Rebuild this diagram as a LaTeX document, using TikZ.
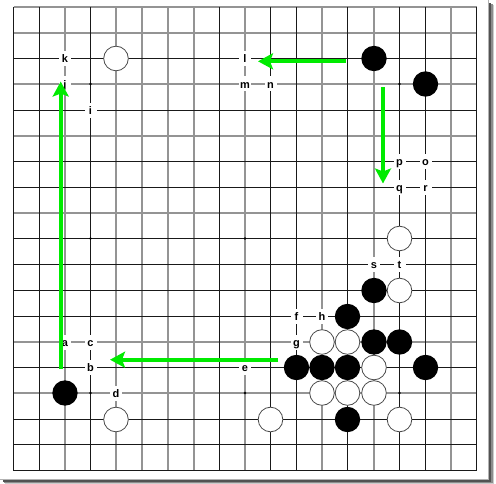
\documentclass[tikz,border=0pt]{standalone}
\usepackage{fontspec}
\setmainfont{Liberation Sans}
\usetikzlibrary{arrows.meta}
\definecolor{arrowgreen}{RGB}{0,235,0}
\begin{document}
\begin{tikzpicture}[x=1pt,y=-1pt,
  darkline/.style={line width=1pt,black!90},
  greyline/.style={line width=1.4pt,black!42},
  blk/.style={circle,fill=black,minimum size=25.4pt,inner sep=0pt},
  wht/.style={circle,fill=white,draw=black!70,line width=0.8pt,minimum size=24.6pt,inner sep=0pt},
  lbl/.style={fill=white,inner sep=0pt,minimum width=12pt,text height=11.9pt,text depth=3.1pt,font=\fontsize{11}{11}\selectfont\bfseries},
  garrow/.style={arrowgreen,line width=3.6pt,-{Stealth[length=15pt,width=16pt,inset=3pt]}},
  hoshi/.style={fill=black}]
\useasboundingbox (0,0) rectangle (496,484);
% frame with shadow
\fill[black!20] (5,5) rectangle (494,484);
\fill[black!45] (4,4) rectangle (492.5,482.8);
\fill[black!68] (3,3) rectangle (491,481.5);
\fill[white] (0,0) rectangle (488.5,480);
\draw[black!30,line width=0.6pt] (488.2,0) -- (488.2,479.7) -- (0,479.7);
% grid coordinates
\foreach \x [count=\i from 0] in {13.5,39.5,65,90.5,116,142,168,194,219.5,245,270.5,296.5,322,347.5,374,399.5,425.5,451,476.5}{
  \foreach \y [count=\j from 0] in {7,33,58.5,84,110.5,136,161.5,187.5,213,238.5,264.5,290.5,316.5,342,367.5,393,419.5,444.5,470.5}{
    \coordinate (g-\i-\j) at (\x,\y);
  }
}
% grid lines: grey ones first, dark ones on top
\foreach \i in {2,4,5,6,7,9,12,14,17}{
  \draw[greyline] (g-\i-0) -- (g-\i-18);
}
\foreach \j in {0,1,3,5,8,13,15}{
  \draw[greyline] (g-0-\j) -- (g-18-\j);
}
\foreach \i in {0,1,3,8,10,11,13,15,16,18}{
  \draw[darkline] (g-\i-0) -- (g-\i-18);
}
\foreach \j in {2,4,6,7,9,10,11,12,14,16,17,18}{
  \draw[darkline] (g-0-\j) -- (g-18-\j);
}
% star points
\foreach \p in {3-3,9-3,15-3,3-9,9-9,15-9,3-15,9-15,15-15}{
  \fill[hoshi] (g-\p) circle (1.4pt);
}
% labels
\node[lbl] (la) at (g-2-13) {a};
\node[lbl] (lb) at (g-3-14) {b};
\node[lbl] (lc) at (g-3-13) {c};
\node[lbl] (ld) at (g-4-15) {d};
\node[lbl] (le) at (g-9-14) {e};
\node[lbl] (lf) at (g-11-12) {f};
\node[lbl] (lg) at (g-11-13) {g};
\node[lbl] (lh) at (g-12-12) {h};
\node[lbl] (li) at (g-3-4) {i};
\node[lbl] (lj) at (g-2-3) {j};
\node[lbl] (lk) at (g-2-2) {k};
\node[lbl] (ll) at (g-9-2) {l};
\node[lbl] (lm) at (g-9-3) {m};
\node[lbl] (ln) at (g-10-3) {n};
\node[lbl] (lo) at (g-16-6) {o};
\node[lbl] (lp) at (g-15-6) {p};
\node[lbl] (lq) at (g-15-7) {q};
\node[lbl] (lr) at (g-16-7) {r};
\node[lbl] (ls) at (g-14-10) {s};
\node[lbl] (lt) at (g-15-10) {t};
% black stones
\foreach \p [count=\n] in {14-2,16-3,14-11,13-12,14-13,15-13,11-14,12-14,13-14,16-14,13-16,2-15}{
  \node[blk] (b\n) at (g-\p) {};
}
% white stones
\foreach \p [count=\n] in {4-2,15-9,15-11,12-13,13-13,14-14,12-15,13-15,14-15,10-16,15-16,4-16}{
  \node[wht] (w\n) at (g-\p) {};
}
% arrows
\coordinate (a1s) at (345.5,61.3);
\coordinate (a1e) at (258,61.3);
\coordinate (a2s) at (383,87.3);
\coordinate (a2e) at (383,183.5);
\coordinate (a3s) at (278.3,359.7);
\coordinate (a3e) at (110,359.7);
\coordinate (a4s) at (60.7,369);
\coordinate (a4e) at (60.7,81.5);
\draw[garrow] (a1s) -- (a1e);
\draw[garrow] (a2s) -- (a2e);
\draw[garrow] (a3s) -- (a3e);
\draw[garrow] (a4s) -- (a4e);
\end{tikzpicture}
\end{document}
